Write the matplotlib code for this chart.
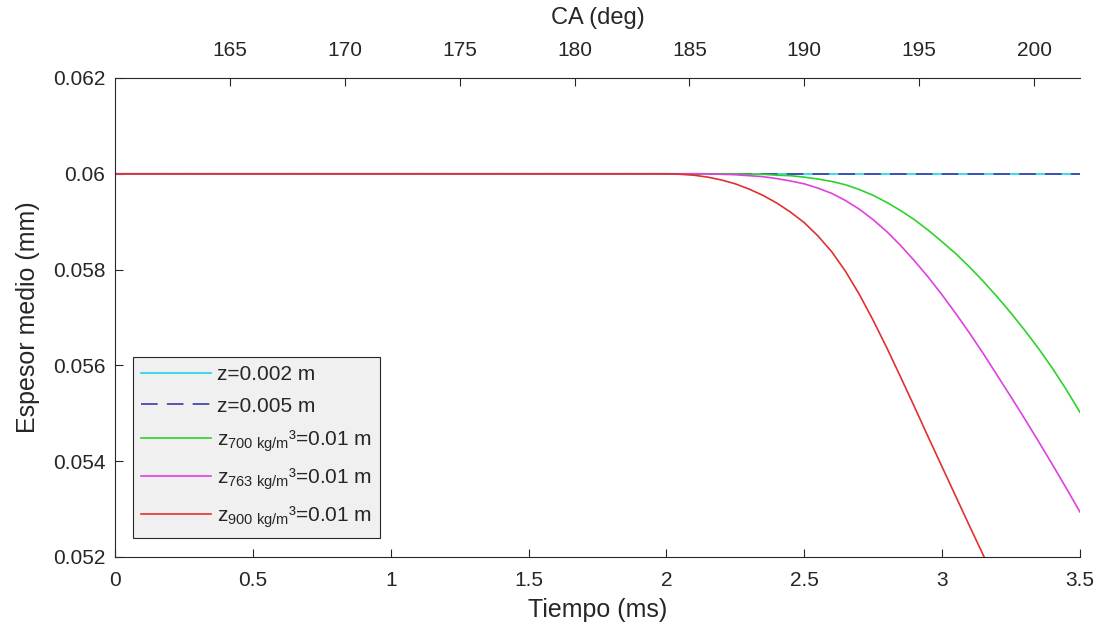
import matplotlib
matplotlib.use("Agg")
import matplotlib.pyplot as plt

plt.rcParams["font.family"] = ["Liberation Sans", "DejaVu Sans"]
plt.rcParams["mathtext.fontset"] = "custom"
plt.rcParams["mathtext.rm"] = "Liberation Sans"
plt.rcParams["mathtext.it"] = "Liberation Sans:italic"
plt.rcParams["mathtext.bf"] = "Liberation Sans:bold"

# Tiempo (ms) and mean film thickness (mm) for each case
tiempo_z = [0.0, 3.5]
espesor_z002 = [0.06, 0.06]
espesor_z005 = [0.06, 0.06]

tiempo_curva = [0.0,
                2.00, 2.05, 2.10, 2.15, 2.20, 2.25, 2.30, 2.35, 2.40, 2.45,
                2.50, 2.55, 2.60, 2.65, 2.70, 2.75, 2.80, 2.85, 2.90, 2.95,
                3.00, 3.05, 3.10, 3.15, 3.20, 3.25, 3.30, 3.35, 3.40, 3.45,
                3.50]
espesor_700 = [0.06,
               0.06, 0.06, 0.06, 0.06, 0.06, 0.06, 0.05999, 0.05999,
               0.05997, 0.05996, 0.05993, 0.05989, 0.05984, 0.05977, 0.05967,
               0.05955, 0.0594, 0.05923, 0.05904, 0.05882, 0.05858, 0.05833,
               0.05805, 0.05775, 0.05743, 0.05709, 0.05673, 0.05635, 0.05594,
               0.0555, 0.05502]
espesor_763 = [0.06,
               0.06, 0.06, 0.06, 0.06, 0.05999, 0.05998, 0.05996, 0.05994,
               0.0599, 0.05985, 0.05979, 0.0597, 0.05959, 0.05944, 0.05926,
               0.05904, 0.05879, 0.0585, 0.05818, 0.05784, 0.05747, 0.05708,
               0.05667, 0.05624, 0.05579, 0.05534, 0.05488, 0.05441, 0.05393,
               0.05344, 0.05294]
espesor_900 = [0.06,
               0.06, 0.05999, 0.05997, 0.05993, 0.05987, 0.05979, 0.05968,
               0.05955, 0.05939, 0.0592, 0.05898, 0.0587, 0.05837, 0.05796,
               0.05748, 0.05694, 0.05636, 0.05575, 0.05513, 0.0545, 0.05388,
               0.05326, 0.05264, 0.05203, 0.05142]

etiquetas = [
    "z=0.002 m",
    "z=0.005 m",
    r"$\mathregular{z_{700\ kg/m}}$³=0.01 m",
    r"$\mathregular{z_{763\ kg/m}}$³=0.01 m",
    r"$\mathregular{z_{900\ kg/m}}$³=0.01 m",
]

xticks = [0, 0.5, 1, 1.5, 2, 2.5, 3, 3.5]
xticklabels = ["0", "0.5", "1", "1.5", "2", "2.5", "3", "3.5"]
yticks = [0.052, 0.054, 0.056, 0.058, 0.06, 0.062]
yticklabels = ["0.052", "0.054", "0.056", "0.058", "0.06", "0.062"]
ca_ticks = [165, 170, 175, 180, 185, 190, 195, 200]

# crank angle (deg) as a function of time (ms)
CA0 = 160.0
DEG_PER_MS = 12.0

axis_color = "#262626"
tick_size = 15
label_size = 18

fig = plt.figure(figsize=(11.02, 6.32), dpi=100)
ax = fig.add_axes([0.1044, 0.1187, 0.8756, 0.7579])

ax.plot(tiempo_z, espesor_z002, color="#22d3e6", lw=1.2, label=etiquetas[0])
ax.plot(tiempo_z, espesor_z005, color="#3a3aa8", lw=1.2,
        dashes=(10, 5.5), label=etiquetas[1])
ax.plot(tiempo_curva, espesor_700, color="#2ed12e", lw=1.2, label=etiquetas[2])
ax.plot(tiempo_curva, espesor_763, color="#e040e0", lw=1.2, label=etiquetas[3])
ax.plot(tiempo_curva[:len(espesor_900)], espesor_900, color="#e03030",
        lw=1.2, label=etiquetas[4])

ax.set_xlim(0, 3.5)
ax.set_ylim(0.052, 0.062)
ax.set_xticks(xticks)
ax.set_xticklabels(xticklabels)
ax.set_yticks(yticks)
ax.set_yticklabels(yticklabels)

ax.tick_params(direction="in", length=6, width=0.8, colors=axis_color,
               labelsize=tick_size, top=False, right=False)
ax.tick_params(axis="x", pad=10)
ax.tick_params(axis="y", pad=7)
for side in ("right", "top"):
    ax.spines[side].set_visible(False)
for side in ("left", "bottom"):
    ax.spines[side].set_color(axis_color)
    ax.spines[side].set_linewidth(0.8)

ax.set_xlabel("Tiempo (ms)", fontsize=label_size, color=axis_color,
              labelpad=6)
ax.set_ylabel("Espesor medio (mm)", fontsize=label_size, color=axis_color,
              labelpad=9)

secax = ax.secondary_xaxis(
    "top",
    functions=(lambda t: CA0 + DEG_PER_MS * t,
               lambda ca: (ca - CA0) / DEG_PER_MS),
)
secax.set_xticks(ca_ticks)
secax.set_xticklabels([str(c) for c in ca_ticks])
secax.tick_params(direction="in", length=6, width=0.8, colors=axis_color,
                  labelsize=tick_size, pad=13)
secax.spines["top"].set_color(axis_color)
secax.spines["top"].set_linewidth(0.8)
secax.set_xlabel("CA (deg)", fontsize=17, color=axis_color, labelpad=12)

leg = ax.legend(loc="lower left", bbox_to_anchor=(0.0187, 0.0397),
                borderaxespad=0, fancybox=False, framealpha=1,
                facecolor="#f0f0f0", edgecolor=axis_color, fontsize=15,
                handlelength=3.36, handletextpad=0.25, labelspacing=0.6,
                borderpad=0.4)
leg.get_frame().set_linewidth(0.8)
for txt in leg.get_texts():
    txt.set_color(axis_color)

fig.savefig("out.png", dpi=100, facecolor="white")
